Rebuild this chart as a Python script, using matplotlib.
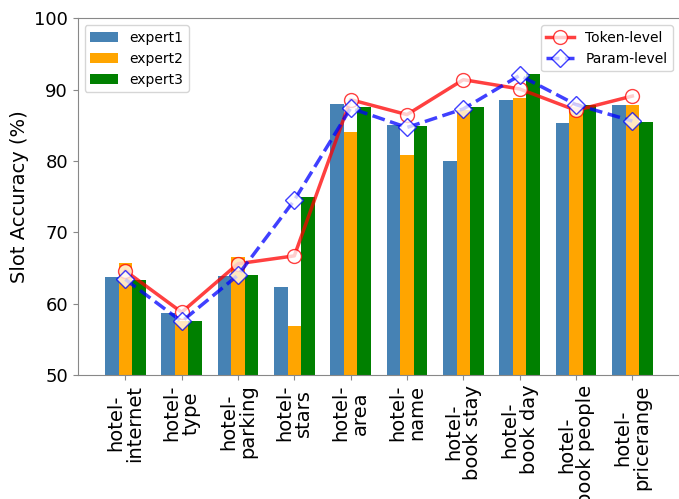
import numpy as np
import matplotlib
matplotlib.use("Agg")
import matplotlib.pyplot as plt

slots = ["hotel-\ninternet", "hotel-\ntype", "hotel-\nparking", "hotel-\nstars", "hotel-\narea",
         "hotel-\nname", "hotel-\nbook stay", "hotel-\nbook day", "hotel-\nbook people", "hotel-\npricerange"]
expert1 = [63.7, 58.7, 63.9, 62.4, 88.0, 85.0, 80.0, 88.5, 85.3, 87.8]
expert2 = [65.7, 57.5, 66.5, 56.9, 84.1, 80.8, 87.2, 88.8, 87.5, 87.9]
expert3 = [63.3, 57.6, 64.0, 75.0, 87.5, 84.9, 87.5, 92.2, 87.8, 85.4]
token_level = [64.6, 58.8, 65.6, 66.7, 88.6, 86.5, 91.4, 90.1, 87.1, 89.1]
param_level = [63.4, 57.5, 64.0, 74.5, 87.4, 84.7, 87.3, 92.0, 87.9, 85.6]

x = np.arange(len(slots))
w = 0.24

fig = plt.figure(figsize=(6.79, 4.99), dpi=100)
ax = fig.add_axes([0.1144, 0.2485, 0.887, 0.7148])

# bars for the three experts
b1 = ax.bar(x - w, expert1, w, color="steelblue", label="expert1")
b2 = ax.bar(x, expert2, w, color="orange", label="expert2")
b3 = ax.bar(x + w, expert3, w, color="green", label="expert3")

# lines for the two fusion levels
l1, = ax.plot(x, token_level, "-o", color="red", alpha=0.75, lw=2.5, ms=10,
              markerfacecolor="white", label="Token-level")
l2, = ax.plot(x, param_level, "--D", color="blue", alpha=0.75, lw=2.5, ms=9,
              markerfacecolor="white", label="Param-level")

ax.set_ylim(50, 100)
ax.set_yticks([50, 60, 70, 80, 90, 100])
ax.set_xticks(x)
ax.set_xticklabels(slots, rotation=90, fontsize=14, linespacing=1.0)
ax.tick_params(axis="y", labelsize=13)
ax.tick_params(color="#888888")
for s in ax.spines.values():
    s.set_color("#888888")
ax.set_ylabel("Slot Accuracy (%)", fontsize=14)

leg1 = ax.legend(handles=[b1, b2, b3], loc="upper left", fontsize=10)
ax.add_artist(leg1)
ax.legend(handles=[l1, l2], loc="upper right", fontsize=10)

fig.savefig("out.png", dpi=100)
